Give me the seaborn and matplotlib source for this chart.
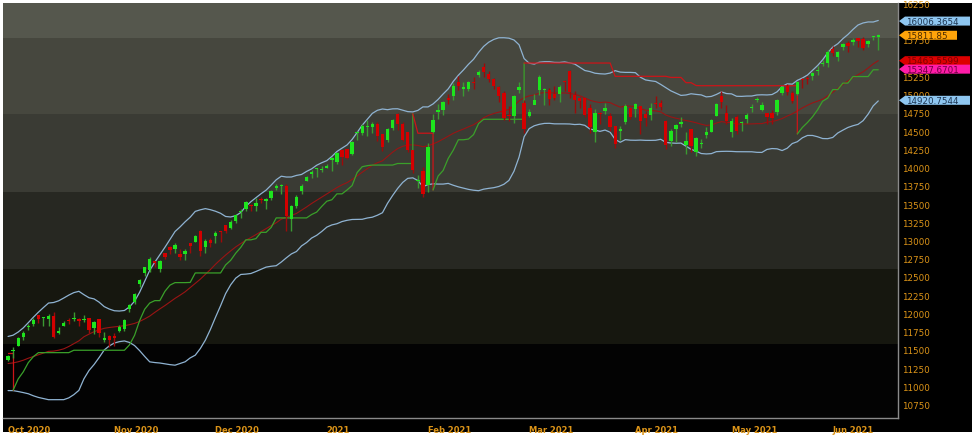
"""
Nifty 50 daily candles, Oct 2020 - Jun 2021, with Bollinger (20, 2) and SuperTrend (10, 3).
Dark banded chart background, values tagged on the right axis.
Saves out.png
"""
import matplotlib
matplotlib.use("Agg")
import matplotlib.pyplot as plt
import matplotlib.transforms as mtransforms
from matplotlib.patches import Polygon, Rectangle
import numpy as np
import pandas as pd
import seaborn as sns

# daily bars: (open, high, low, close)
# September is only warm-up for the indicators, it is not drawn
sep_2020 = [
    (11464, 11554, 11366, 11470), (11488, 11556, 11419, 11535), (11562, 11584, 11494, 11527),
    (11355, 11452, 11303, 11333), (11351, 11382, 11281, 11355), (11400, 11437, 11290, 11317),
    (11220, 11302, 11185, 11278), (11307, 11461, 11294, 11449), (11494, 11494, 11427, 11464),
    (11546, 11553, 11406, 11440), (11449, 11545, 11448, 11521), (11559, 11618, 11506, 11605),
    (11558, 11572, 11476, 11516), (11541, 11563, 11456, 11505), (11535, 11535, 11205, 11250),
    (11205, 11228, 11080, 11153), (11170, 11262, 11108, 11132), (11054, 11054, 10790, 10805),
    (10860, 11072, 10859, 11050), (11140, 11239, 11113, 11228), (11288, 11305, 11207, 11222),
    (11244, 11305, 11185, 11248),
]
oct_2020 = [
    (11364, 11428, 11347, 11417), (11487, 11540, 11387, 11503), (11558, 11680, 11558, 11662),
    (11679, 11763, 11639, 11738), (11810, 11852, 11772, 11835), (11852, 11939, 11822, 11914),
    (11973, 11974, 11867, 11930), (11935, 11949, 11822, 11935), (11918, 11997, 11822, 11971),
    (11964, 12019, 11661, 11680), (11727, 11812, 11723, 11762), (11835, 11899, 11826, 11873),
    (11910, 11943, 11858, 11897), (11919, 12018, 11898, 11937), (11931, 11941, 11827, 11896),
    (11910, 11975, 11880, 11930), (11937, 11942, 11738, 11767), (11807, 11899, 11723, 11889),
    (11922, 11929, 11684, 11730), (11633, 11744, 11606, 11670), (11698, 11710, 11535, 11642),
]
nov_2020 = [
    (11697, 11726, 11557, 11669), (11758, 11837, 11744, 11813), (11783, 11929, 11757, 11908),
    (12062, 12131, 12027, 12120), (12156, 12281, 12131, 12264), (12399, 12474, 12368, 12461),
    (12556, 12643, 12515, 12631), (12602, 12769, 12573, 12749), (12720, 12723, 12643, 12691),
    (12616, 12735, 12571, 12720), (12829, 12829, 12753, 12780), (12905, 12918, 12819, 12874),
    (12880, 12963, 12828, 12938), (12812, 12883, 12730, 12772), (12813, 12879, 12730, 12860),
    (12960, 12968, 12834, 12926), (12977, 13080, 12979, 13055), (13130, 13146, 12790, 12858),
    (12906, 13018, 12834, 12987), (13012, 13036, 12906, 12969),
]
dec_2020 = [
    (13062, 13128, 12963, 13109), (13121, 13128, 12983, 13114), (13215, 13217, 13101, 13134),
    (13177, 13281, 13153, 13259), (13264, 13366, 13241, 13356), (13393, 13432, 13311, 13393),
    (13430, 13548, 13401, 13529), (13488, 13504, 13403, 13478), (13470, 13579, 13402, 13514),
    (13571, 13597, 13513, 13558), (13547, 13588, 13435, 13568), (13588, 13692, 13550, 13683),
    (13713, 13773, 13697, 13741), (13746, 13772, 13635, 13761), (13741, 13777, 13132, 13329),
    (13292, 13484, 13131, 13466), (13473, 13619, 13447, 13602), (13672, 13772, 13637, 13749),
    (13815, 13885, 13810, 13873), (13911, 13968, 13859, 13933), (13980, 13997, 13864, 13982),
    (13971, 14025, 13937, 13982),
]
jan_2021 = [
    (13997, 14050, 13992, 14019), (14104, 14148, 13954, 14133), (14075, 14216, 14049, 14199),
    (14240, 14245, 14039, 14147), (14253, 14254, 14121, 14137), (14182, 14368, 14168, 14347),
    (14474, 14499, 14383, 14485), (14474, 14590, 14439, 14564), (14552, 14653, 14435, 14564),
    (14550, 14617, 14471, 14596), (14595, 14618, 14357, 14434), (14453, 14459, 14222, 14281),
    (14371, 14546, 14350, 14521), (14538, 14666, 14517, 14645), (14730, 14753, 14517, 14590),
    (14590, 14619, 14358, 14372), (14492, 14492, 14218, 14239), (14237, 14237, 13929, 13968),
    (13810, 13898, 13713, 13818), (13946, 14009, 13597, 13635),
]
feb_2021 = [
    (13758, 14336, 13662, 14281), (14481, 14731, 14469, 14648), (14754, 14868, 14665, 14790),
    (14789, 14914, 14716, 14896), (14953, 15014, 14864, 14925), (14973, 15159, 14924, 15116),
    (15165, 15257, 15065, 15110), (15078, 15169, 14978, 15107), (15081, 15188, 15045, 15173),
    (15173, 15244, 15070, 15163), (15270, 15340, 15243, 15315), (15371, 15432, 15243, 15313),
    (15279, 15316, 15171, 15209), (15208, 15231, 15070, 15119), (15101, 15111, 14898, 14982),
    (15016, 15055, 14651, 14676), (14709, 14848, 14635, 14708), (14707, 14990, 14609, 14982),
    (15067, 15177, 15027, 15097), (14889, 14920, 14468, 14529),
]
mar_2021 = [
    (14703, 14806, 14693, 14762), (14863, 15002, 14865, 14920), (15065, 15273, 14996, 15246),
    (15065, 15093, 14863, 15081), (15064, 15093, 14863, 14938), (15002, 15111, 14919, 14956),
    (15011, 15137, 14903, 15099), (15190, 15203, 15054, 15175), (15321, 15336, 14954, 15031),
    (14996, 15048, 14746, 14929), (14946, 14969, 14812, 14910), (14946, 14956, 14696, 14721),
    (14816, 14875, 14478, 14558), (14489, 14806, 14350, 14745), (14737, 14764, 14597, 14736),
    (14769, 14878, 14727, 14815), (14712, 14752, 14505, 14549), (14571, 14575, 14264, 14325),
    (14507, 14572, 14383, 14507), (14628, 14877, 14593, 14845), (14811, 14813, 14670, 14691),
]
apr_2021 = [
    (14798, 14883, 14692, 14867), (14837, 14849, 14459, 14638), (14737, 14779, 14573, 14684),
    (14716, 14879, 14650, 14819), (14875, 14984, 14822, 14874), (14883, 14919, 14785, 14835),
    (14644, 14652, 14248, 14311), (14364, 14528, 14293, 14505), (14522, 14598, 14353, 14581),
    (14599, 14697, 14559, 14617), (14306, 14483, 14191, 14359), (14526, 14526, 14207, 14297),
    (14219, 14423, 14151, 14406), (14326, 14384, 14273, 14341), (14449, 14557, 14407, 14485),
    (14493, 14667, 14484, 14653), (14710, 14890, 14706, 14865), (14979, 15044, 14821, 14895),
    (14747, 14856, 14601, 14631),
]
may_2021 = [
    (14481, 14673, 14417, 14634), (14687, 14723, 14461, 14496), (14604, 14637, 14506, 14618),
    (14668, 14747, 14611, 14724), (14816, 14864, 14765, 14823), (14928, 14967, 14892, 14942),
    (14789, 14900, 14771, 14851), (14749, 14750, 14592, 14697), (14749, 14782, 14591, 14678),
    (14756, 14938, 14725, 14923), (15015, 15115, 14999, 15109), (15117, 15144, 14997, 15031),
    (15018, 15047, 14885, 14906), (15007, 15190, 14998, 15175), (15211, 15228, 15093, 15197),
    (15211, 15249, 15146, 15208), (15258, 15315, 15193, 15301), (15324, 15384, 15272, 15338),
    (15421, 15469, 15394, 15436), (15437, 15607, 15374, 15583),
]
jun_2021 = [
    (15629, 15660, 15528, 15575), (15520, 15597, 15459, 15577), (15656, 15705, 15611, 15691),
    (15701, 15734, 15577, 15670), (15725, 15773, 15679, 15752), (15773, 15778, 15650, 15740),
    (15766, 15789, 15607, 15635), (15692, 15752, 15648, 15738), (15792, 15800, 15752, 15799),
    (15791, 15823, 15607, 15812),
]

months = [oct_2020, nov_2020, dec_2020, jan_2021, feb_2021,
          mar_2021, apr_2021, may_2021, jun_2021]
month_labels = ["Oct 2020", "Nov 2020", "Dec 2020", "2021", "Feb 2021",
                "Mar 2021", "Apr 2021", "May 2021", "Jun 2021"]

y_ticks = list(range(10750, 16251, 250))
# these sit fully under a value tag in the original
hidden_ticks = [16000, 15500]

# last values shown in the right-hand tags
tag_values = [16006.3654, 15811.85, 15463.5599, 15347.6701, 14920.7544]
tag_texts = ["16006.3654", "15811.85", "15463.5599", "15347.6701", "14920.7544"]

# colours
UP_BODY, UP_WICK = "#1de51d", "#3a9a32"
DN_BODY, DN_WICK = "#d40000", "#9c0a0a"
BB_COL = "#8fb3d2"
MID_COL = "#9a1414"
ST_UP, ST_DN = "#3aa02a", "#cc1418"
AXIS_TXT = "#dc9418"
band_cols = ["#030303", "#16170f", "#272822", "#3a3b34", "#46473e", "#55574d"]
band_edges = [0.0, 0.178, 0.359, 0.545, 0.733, 0.916, 1.0]
tag_bg = ["#8ec6f0", "#ffa40a", "#dc0000", "#ff1ca8", "#8ec6f0"]
tag_fg = ["#1c3450", "#4a2a00", "#7a0000", "#700040", "#1c3450"]
tag_right = [970, 957, 970, 970, 970]

sns.set_theme(style="dark")
plt.rcParams["font.family"] = ["DejaVu Sans"]

rows = sep_2020 + [bar for m in months for bar in m]
df = pd.DataFrame(rows, columns=["open", "high", "low", "close"])
n_warm = len(sep_2020)

# Bollinger 20 / 2
mid = df["close"].rolling(20).mean()
sd = df["close"].rolling(20).std(ddof=0)
upper = mid + 2 * sd
lower = mid - 2 * sd

# SuperTrend 10 / 3
prev_close = df["close"].shift()
tr = pd.concat([df["high"] - df["low"],
                (df["high"] - prev_close).abs(),
                (df["low"] - prev_close).abs()], axis=1).max(axis=1)
atr = tr.ewm(alpha=1 / 10, adjust=False).mean()
hl2 = (df["high"] + df["low"]) / 2
ub = (hl2 + 3 * atr).to_numpy()
lb = (hl2 - 3 * atr).to_numpy()
c = df["close"].to_numpy()
fub, flb = ub.copy(), lb.copy()
trend = np.full(len(df), -1)
for i in range(1, len(df)):
    fub[i] = ub[i] if (ub[i] < fub[i - 1] or c[i - 1] > fub[i - 1]) else fub[i - 1]
    flb[i] = lb[i] if (lb[i] > flb[i - 1] or c[i - 1] < flb[i - 1]) else flb[i - 1]
    if trend[i - 1] < 0 and c[i] > fub[i - 1]:
        trend[i] = 1
    elif trend[i - 1] > 0 and c[i] < flb[i - 1]:
        trend[i] = -1
    else:
        trend[i] = trend[i - 1]
st = np.where(trend > 0, flb, fub)

vis = df.iloc[n_warm:].reset_index(drop=True)
x = np.arange(len(vis))
up_v = upper.iloc[n_warm:].to_numpy()
lo_v = lower.iloc[n_warm:].to_numpy()
mid_v = mid.iloc[n_warm:].to_numpy()
st_v = st[n_warm:]
tr_v = trend[n_warm:]

# figure
W, H = 977, 439
fig = plt.figure(figsize=(W / 100, H / 100), dpi=100, facecolor="white")
fig.patches.append(Rectangle((3 / W, 6 / H), 969 / W, 429 / H,
                             transform=fig.transFigure, facecolor="black",
                             edgecolor="none", zorder=-10))
ax = fig.add_axes([3 / W, 20 / H, 895 / W, 415 / H])
ax.set_facecolor("black")
ylim = (10568, 16254)
ax.set_xlim(-1, 175.9)
ax.set_ylim(*ylim)

for k, col in enumerate(band_cols):
    ax.add_patch(Rectangle((0, band_edges[k]), 1, band_edges[k + 1] - band_edges[k],
                           transform=ax.transAxes, facecolor=col,
                           edgecolor="none", zorder=0))

# bands + middle line
sns.lineplot(x=x, y=up_v, ax=ax, color=BB_COL, lw=0.9, zorder=2)
sns.lineplot(x=x, y=lo_v, ax=ax, color=BB_COL, lw=0.9, zorder=2)
sns.lineplot(x=x, y=mid_v, ax=ax, color=MID_COL, lw=0.8, zorder=2)

# supertrend, colour by direction, flip drawn as a vertical step
starts = [0] + [i for i in range(1, len(x)) if tr_v[i] != tr_v[i - 1]]
ends = starts[1:] + [len(x)]
for s, e in zip(starts, ends):
    xs = list(x[s:e])
    ys = list(st_v[s:e])
    if e < len(x):
        xs += [e, e]
        ys += [st_v[e - 1], st_v[e]]
    ax.plot(xs, ys, color=ST_UP if tr_v[s] > 0 else ST_DN, lw=0.9, zorder=2)

# candles
o, h, l, cl = (vis[k].to_numpy() for k in ["open", "high", "low", "close"])
is_up = cl >= o
ax.vlines(x, l, h, colors=np.where(is_up, UP_WICK, DN_WICK), lw=1, zorder=3)
body_lo = np.minimum(o, cl)
body_h = np.maximum(np.abs(cl - o), 14)
ax.bar(x, body_h, bottom=body_lo, width=0.66,
       color=np.where(is_up, UP_BODY, DN_BODY), linewidth=0, zorder=4)

# axes
tick_pos = np.cumsum([0] + [len(m) for m in months[:-1]])
ax.set_xticks(tick_pos)
ax.set_xticklabels(month_labels, ha="left")
ax.tick_params(axis="x", colors="#c8c8c8", length=2.5, width=0.8, pad=2.5,
               labelcolor=AXIS_TXT, labelsize=6)
for lab in ax.get_xticklabels():
    lab.set_fontweight("bold")

ax.yaxis.tick_right()
ax.set_yticks(y_ticks)
ax.set_yticklabels(["" if v in hidden_ticks else str(v) for v in y_ticks])
ax.tick_params(axis="y", length=0, pad=3, labelcolor=AXIS_TXT, labelsize=6.3)
ax.grid(False)
for side in ["top", "left"]:
    ax.spines[side].set_visible(False)
for side in ["bottom", "right"]:
    ax.spines[side].set_color("#8a8a8a")
    ax.spines[side].set_linewidth(1)

# value tags on the right axis
tfig = mtransforms.blended_transform_factory(fig.transFigure, ax.transData)
half = 4.5 * (ylim[1] - ylim[0]) / 415
for v, txt, bg, fg, xr in zip(tag_values, tag_texts, tag_bg, tag_fg, tag_right):
    pts = [(899 / W, v), (905 / W, v + half), (xr / W, v + half),
           (xr / W, v - half), (905 / W, v - half)]
    ax.add_patch(Polygon(pts, closed=True, transform=tfig, facecolor=bg,
                         edgecolor="none", clip_on=False, zorder=10))
    ax.text(906 / W, v, txt, transform=tfig, color=fg, fontsize=6.3,
            va="center", ha="left", clip_on=False, zorder=11)

fig.savefig("out.png", dpi=100, facecolor=fig.get_facecolor())
